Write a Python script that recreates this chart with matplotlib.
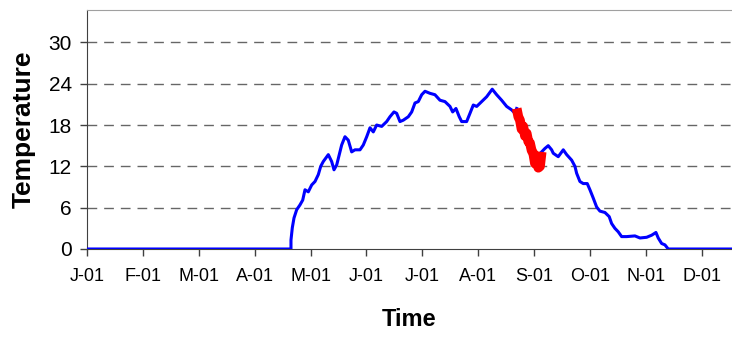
import matplotlib.pyplot as plt

plt.rcParams["font.family"] = ["Liberation Sans", "DejaVu Sans"]

# x in months from 1 Jan, temperature values
months = [0.0, 3.649, 3.649, 3.673, 3.703, 3.751, 3.810, 3.859, 3.900, 3.959,
          4.020, 4.079, 4.138, 4.181, 4.227, 4.317, 4.377, 4.419, 4.467, 4.513,
          4.556, 4.615, 4.674, 4.735, 4.794, 4.884, 4.943, 5.004, 5.063, 5.122,
          5.182, 5.272, 5.361, 5.420, 5.492, 5.540, 5.599, 5.658, 5.748, 5.809,
          5.868, 5.927, 5.988, 6.047, 6.136, 6.225, 6.315, 6.404, 6.494, 6.542,
          6.601, 6.660, 6.703, 6.792, 6.852, 6.911, 6.972, 7.061, 7.150, 7.250,
          7.329, 7.418, 7.508, 7.597, 7.657, 7.687]
temps = [0.0, 0.0, 1.3, 3.1, 4.5, 5.7, 6.4, 7.1, 8.6, 8.3,
         9.3, 9.8, 10.8, 12.0, 12.7, 13.7, 12.7, 11.5, 12.2, 13.7,
         15.1, 16.3, 15.8, 14.1, 14.4, 14.4, 15.1, 16.3, 17.6, 17.0,
         18.0, 17.8, 18.5, 19.2, 19.9, 19.7, 18.5, 18.7, 19.2, 19.9,
         21.2, 21.4, 22.4, 22.9, 22.6, 22.4, 21.6, 21.4, 20.7, 19.9,
         20.4, 19.2, 18.5, 18.5, 19.7, 20.9, 20.7, 21.4, 22.1, 23.2,
         22.4, 21.6, 20.7, 20.2, 19.7, 20.4]

# highlighted stretch (red)
red_months = [7.687, 7.717, 7.746, 7.775, 7.805, 7.836, 7.866, 7.895, 7.925,
              7.955, 7.984, 8.015, 8.045, 8.075, 8.104, 8.134]
red_temps = [20.4, 19.2, 18.7, 17.4, 17.8, 16.4, 16.8, 15.6, 15.4,
             14.3, 13.9, 12.4, 12.9, 11.8, 12.0, 14.1]

# autumn decline
fall_months = [8.134, 8.193, 8.252, 8.313, 8.342, 8.431, 8.521, 8.582, 8.671,
               8.730, 8.760, 8.819, 8.878, 8.950, 8.998, 9.057, 9.118, 9.177,
               9.267, 9.343, 9.386, 9.445, 9.504, 9.565, 9.655, 9.803, 9.893,
               10.013, 10.102, 10.179, 10.220, 10.281, 10.340, 10.399, 11.6]
fall_temps = [14.1, 14.6, 15.0, 14.4, 13.9, 13.4, 14.4, 13.7, 12.9,
              12.0, 11.0, 9.8, 9.5, 9.5, 8.6, 7.4, 6.1, 5.5,
              5.3, 4.7, 3.7, 3.0, 2.5, 1.8, 1.8, 1.9, 1.6,
              1.7, 2.0, 2.4, 1.6, 0.8, 0.6, 0.0, 0.0]

tick_labels = ["J-01", "F-01", "M-01", "A-01", "M-01", "J-01",
               "J-01", "A-01", "S-01", "O-01", "N-01", "D-01"]
y_ticks = [0, 6, 12, 18, 24, 30]

fig = plt.figure(figsize=(7.32, 3.41), dpi=100)
ax = fig.add_axes([0.1189, 0.2698, 0.8811, 0.7009])

ax.plot(months, temps, color="#0000ff", lw=2.2, zorder=3)
ax.plot(fall_months, fall_temps, color="#0000ff", lw=2.2, zorder=3)
ax.plot(red_months, red_temps, color="#ff0000", lw=7, zorder=4,
        solid_capstyle="butt")

ax.set_xlim(0, 11.54)
ax.set_ylim(0, 34.7)
ax.set_xticks(range(len(tick_labels)))
ax.set_xticklabels(tick_labels, fontsize=13)
ax.set_yticks(y_ticks)
ax.set_yticklabels([str(v) for v in y_ticks], fontsize=15)

for v in y_ticks[1:]:
    ax.axhline(v, color="#666666", lw=1, ls=(0, (7, 5)), zorder=1)

ax.tick_params(axis="x", length=5, width=1, color="#404040", pad=9)
ax.tick_params(axis="y", length=5, width=1, color="#404040", pad=6)
ax.spines["left"].set_color("#404040")
ax.spines["bottom"].set_color("#404040")
ax.spines["top"].set_color("#a0a0a0")
ax.spines["right"].set_visible(False)

ax.set_xlabel("Time", fontsize=17, fontweight="bold", labelpad=16)
ax.set_ylabel("Temperature", fontsize=19, fontweight="bold", labelpad=9)

fig.savefig("out.png", dpi=100)
